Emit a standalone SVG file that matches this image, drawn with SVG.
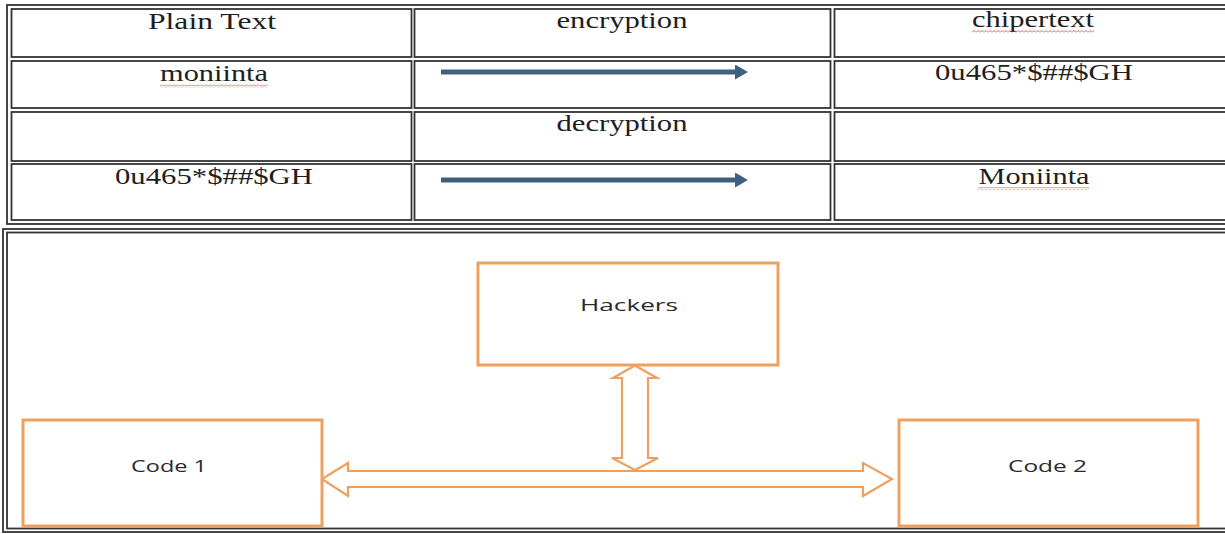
<svg xmlns="http://www.w3.org/2000/svg" width="1225" height="534" viewBox="0 0 1225 534">
<style>
.grid{fill:none;stroke:#333;stroke-width:1.8}
.t{font-family:"Liberation Serif","Times New Roman",serif;font-size:23px;fill:#1e1e1e;text-anchor:middle}
.s{font-family:"Open Sans","Liberation Sans",sans-serif;font-size:16px;fill:#2a2a2a;text-anchor:middle}
.box{fill:#fff;stroke:#eea060;stroke-width:3}
.oarrow{fill:#fff;stroke:#eea060;stroke-width:2.2;stroke-linejoin:miter}
.barrow{stroke:#40607f;stroke-width:5}
.spell{fill:url(#wavy)}
</style>
<defs>
<pattern id="wavy" width="4" height="3" patternUnits="userSpaceOnUse">
<path d="M0,2.5 L2,0.5 L4,2.5" stroke="#e03030" fill="none" stroke-width="0.8"/>
</pattern>
<marker id="bhead" markerWidth="4" markerHeight="3" refX="0" refY="1.5" orient="auto" markerUnits="strokeWidth">
<path d="M0,0 L2.6,1.5 L0,3 Z" fill="#40607f"/>
</marker>
</defs>
<rect width="1225" height="534" fill="#fff"/>

<g id="table">
<rect class="grid" x="7" y="5" width="1225" height="219"/>
<g id="cell-r1c1"><rect class="grid" x="11.5" y="9" width="400" height="48"/><text class="t" x="212" y="29" textLength="128" lengthAdjust="spacingAndGlyphs">Plain Text</text></g>
<g id="cell-r1c2"><rect class="grid" x="414.5" y="9" width="416" height="48"/><text class="t" x="622" y="28" textLength="131" lengthAdjust="spacingAndGlyphs">encryption</text></g>
<g id="cell-r1c3"><rect class="grid" x="834.5" y="9" width="395" height="48"/><text class="t" x="1033" y="27" textLength="122" lengthAdjust="spacingAndGlyphs">chipertext</text><rect class="spell" x="972" y="30" width="122" height="3"/></g>

<g id="cell-r2c1"><rect class="grid" x="11.5" y="61" width="400" height="47"/><text class="t" x="214" y="81" textLength="108" lengthAdjust="spacingAndGlyphs">moniinta</text><rect class="spell" x="160" y="84.5" width="108" height="3"/></g>
<g id="cell-r2c2"><rect class="grid" x="414.5" y="61" width="416" height="47"/></g>
<g id="cell-r2c3"><rect class="grid" x="834.5" y="61" width="395" height="47"/><text class="t" x="1034" y="80" textLength="198" lengthAdjust="spacingAndGlyphs">0u465*$##$GH</text></g>

<g id="cell-r3c1"><rect class="grid" x="11.5" y="112" width="400" height="49"/></g>
<g id="cell-r3c2"><rect class="grid" x="414.5" y="112" width="416" height="49"/><text class="t" x="622" y="131" textLength="131" lengthAdjust="spacingAndGlyphs">decryption</text></g>
<g id="cell-r3c3"><rect class="grid" x="834.5" y="112" width="395" height="49"/></g>

<g id="cell-r4c1"><rect class="grid" x="11.5" y="164" width="400" height="56"/><text class="t" x="214" y="184" textLength="198" lengthAdjust="spacingAndGlyphs">0u465*$##$GH</text></g>
<g id="cell-r4c2"><rect class="grid" x="414.5" y="164" width="416" height="56"/></g>
<g id="cell-r4c3"><rect class="grid" x="834.5" y="164" width="395" height="56"/><text class="t" x="1034" y="184" textLength="111" lengthAdjust="spacingAndGlyphs">Moniinta</text><rect class="spell" x="978" y="187" width="111" height="3"/></g>
</g>

<g id="frame">
<rect class="grid" x="3" y="229" width="1230" height="303"/>
<rect class="grid" x="7" y="232.5" width="1222" height="296"/>
</g>

<g id="connectors">
<line class="barrow" x1="441" y1="72" x2="735" y2="72" marker-end="url(#bhead)"/>
<line class="barrow" x1="441" y1="180" x2="735" y2="180" marker-end="url(#bhead)"/>
<polygon id="link-code1-code2" class="oarrow" points="322,479 348,463 348,471 863,471 863,463 892,479 863,496 863,487 348,487 348,496"/>
<polygon id="link-hackers" class="oarrow" points="635,365.5 657,378 648,378 648,458 658,458 635,470 612,458 622,458 622,378 613,378"/>
</g>

<g id="hackers">
<rect class="box" x="478" y="263" width="300" height="102"/>
<text class="s" x="629" y="311" textLength="98" lengthAdjust="spacingAndGlyphs">Hackers</text>
</g>
<g id="code1">
<rect class="box" x="23" y="420" width="299" height="106"/>
<text class="s" x="169" y="472" textLength="76" lengthAdjust="spacingAndGlyphs">Code 1</text>
</g>
<g id="code2">
<rect class="box" x="899" y="420" width="299" height="106"/>
<text class="s" x="1047.5" y="472" textLength="79" lengthAdjust="spacingAndGlyphs">Code 2</text>
</g>
</svg>
